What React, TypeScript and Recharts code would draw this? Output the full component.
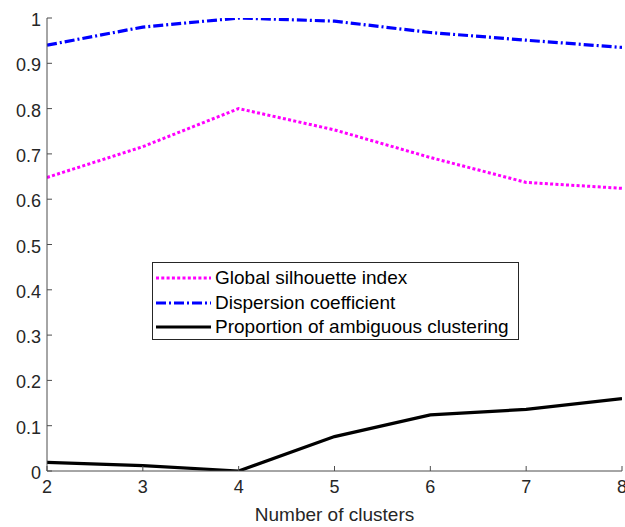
import React from 'react';
import { LineChart, Line, XAxis, YAxis, Legend } from 'recharts';

const clusters = [2, 3, 4, 5, 6, 7, 8];
const silhouette = [0.648, 0.716, 0.8, 0.753, 0.692, 0.637, 0.624];
const dispersion = [0.94, 0.98, 1.0, 0.993, 0.968, 0.951, 0.935];
const ambiguous = [0.019, 0.012, 0.0, 0.076, 0.124, 0.136, 0.16];
const xTicks = [2, 3, 4, 5, 6, 7, 8];
const yTicks = [0, 0.1, 0.2, 0.3, 0.4, 0.5, 0.6, 0.7, 0.8, 0.9, 1];
const seriesNames = ['Global silhouette index', 'Dispersion coefficient', 'Proportion of ambiguous clustering'];

const data = clusters.map((c, i) => ({
  k: c,
  sil: silhouette[i],
  disp: dispersion[i],
  amb: ambiguous[i],
}));

const FONT = '"Liberation Sans", Arial, Helvetica, sans-serif';
const TXT = '#262626';
const AX = '#4d4d4d';
const TICK = 5;

const BottomTick = (props: any) => {
  const { x, y, payload } = props;
  return (
    <g>
      <line x1={x} y1={y} x2={x} y2={y - TICK} stroke={AX} strokeWidth={1} />
      <text x={x} y={y + 22} textAnchor="middle" fontSize={18} fill={TXT} fontFamily={FONT}>
        {payload.value}
      </text>
    </g>
  );
};

const TopTick = (props: any) => {
  const { x, y } = props;
  return <line x1={x} y1={y} x2={x} y2={y + TICK} stroke={AX} strokeWidth={1} />;
};

const LeftTick = (props: any) => {
  const { x, y, payload } = props;
  const v = payload.value;
  const label = v === 0 ? '0' : v === 1 ? '1' : String(Math.round(v * 10) / 10);
  return (
    <g>
      <line x1={x} y1={y} x2={x + TICK} y2={y} stroke={AX} strokeWidth={1} />
      <text x={x - 6} y={y + 8} textAnchor="end" fontSize={18} fill={TXT} fontFamily={FONT}>
        {label}
      </text>
    </g>
  );
};

const RightTick = (props: any) => {
  const { x, y } = props;
  return <line x1={x} y1={y} x2={x - TICK} y2={y} stroke={AX} strokeWidth={1} />;
};

const legendStyles = [
  { color: '#ff00ff', dash: '3 2.3', width: 3 },
  { color: '#0000ff', dash: '10 3 2 3', width: 3 },
  { color: '#000000', dash: undefined, width: 3 },
];

const LegendBox = () => (
  <div
    style={{
      width: 367,
      height: 78,
      border: '1px solid #262626',
      background: '#fff',
      boxSizing: 'border-box',
      fontFamily: FONT,
      fontSize: 19,
      color: '#000',
      paddingTop: 3,
    }}
  >
    {seriesNames.map((n, i) => (
      <div key={n} style={{ display: 'flex', alignItems: 'center', height: 24.5 }}>
        <svg width={60} height={10} style={{ marginLeft: 2 }}>
          <line
            x1={1}
            y1={5}
            x2={56}
            y2={5}
            stroke={legendStyles[i].color}
            strokeWidth={legendStyles[i].width}
            strokeDasharray={legendStyles[i].dash}
          />
        </svg>
        <span style={{ lineHeight: '20px' }}>{n}</span>
      </div>
    ))}
  </div>
);

export default function App() {
  return (
    <div style={{ position: 'absolute', left: 0, top: 0, width: 625, height: 527, background: '#fff' }}>
      <LineChart width={625} height={527} data={data} margin={{ top: 18, right: 3, left: 0, bottom: 0 }}>
        <XAxis
          dataKey="k"
          type="number"
          domain={[2, 8]}
          ticks={xTicks}
          allowDataOverflow
          height={56}
          tickSize={0}
          tickMargin={0}
          tickLine={false}
          tick={<BottomTick />}
          axisLine={{ stroke: AX, strokeWidth: 1 }}
          interval={0}
          label={{ value: 'Number of clusters', position: 'insideBottom', offset: 6, fontSize: 19, fill: TXT, fontFamily: FONT }}
        />
        <XAxis
          xAxisId="top"
          orientation="top"
          type="number"
          domain={[2, 8]}
          ticks={xTicks}
          allowDataOverflow
          height={0}
          tickSize={0}
          tickMargin={0}
          tickLine={false}
          tick={<TopTick />}
          axisLine={{ stroke: AX, strokeWidth: 1 }}
          interval={0}
        />
        <YAxis
          type="number"
          domain={[0, 1]}
          ticks={yTicks}
          allowDataOverflow
          width={47}
          tickSize={0}
          tickMargin={0}
          tickLine={false}
          tick={<LeftTick />}
          axisLine={{ stroke: AX, strokeWidth: 1 }}
          interval={0}
        />
        <YAxis
          yAxisId="right"
          orientation="right"
          type="number"
          domain={[0, 1]}
          ticks={yTicks}
          allowDataOverflow
          width={0}
          tickSize={0}
          tickMargin={0}
          tickLine={false}
          tick={<RightTick />}
          axisLine={{ stroke: AX, strokeWidth: 1 }}
          interval={0}
        />
        <Line
          dataKey="sil"
          stroke="#ff00ff"
          strokeWidth={3}
          strokeDasharray="3 2.3"
          dot={false}
          activeDot={false}
          isAnimationActive={false}
        />
        <Line
          dataKey="disp"
          stroke="#0000ff"
          strokeWidth={3.2}
          strokeDasharray="10 3 2 3"
          dot={false}
          activeDot={false}
          isAnimationActive={false}
        />
        <Line
          dataKey="amb"
          stroke="#000000"
          strokeWidth={3.2}
          dot={false}
          activeDot={false}
          isAnimationActive={false}
        />
        <Legend
          layout="vertical"
          align="center"
          verticalAlign="middle"
          content={<LegendBox />}
          wrapperStyle={{ position: 'absolute', left: 152, top: 262, width: 367, height: 78 }}
        />
      </LineChart>
    </div>
  );
}
